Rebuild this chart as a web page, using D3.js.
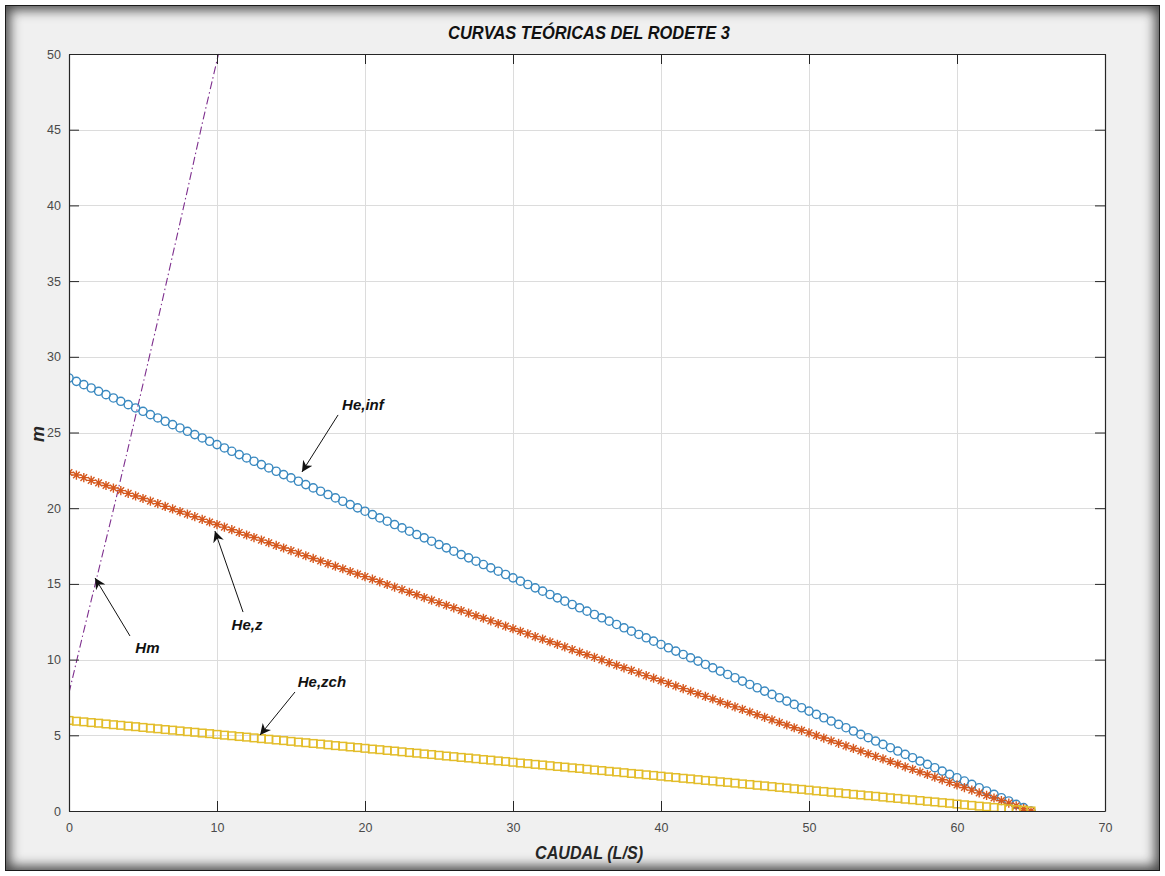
<!DOCTYPE html>
<html>
<head>
<meta charset="utf-8">
<script src="https://cdn.jsdelivr.net/npm/d3@7/dist/d3.min.js"></script>
<style>
  html, body { margin: 0; padding: 0; background: #ffffff; }
  #frame {
    position: absolute; left: 5px; top: 5px; width: 1153px; height: 864px;
    background: #f0f0f0; border: 1px solid #1a1a1a;
    box-shadow: inset 0 0 12px 4px rgba(0,0,0,0.7);
  }
  svg { position: absolute; left: 0; top: 0; }
  text { font-family: "Liberation Sans", Arial, sans-serif; }
</style>
</head>
<body>
<div id="frame"></div>
<svg id="chart" width="1165" height="876"></svg>
<script>
// ---------------- DATA ----------------
const titleText = "CURVAS TEÓRICAS DEL RODETE 3";
const xLabelText = "CAUDAL (L/S)";
const yLabelText = "m";
const xTicks = [0, 10, 20, 30, 40, 50, 60, 70];
const yTicks = [0, 5, 10, 15, 20, 25, 30, 35, 40, 45, 50];

// Caudal (L/s) at each marker
const caudal = [0,0.5,1,1.5,2,2.5,3,3.5,4,4.5,5,5.5,6,6.5,7,7.5,8,8.5,9,9.5,10,10.5,11,11.5,12,12.5,13,13.5,14,14.5,15,15.5,16,16.5,17,17.5,18,18.5,19,19.5,20,20.5,21,21.5,22,22.5,23,23.5,24,24.5,25,25.5,26,26.5,27,27.5,28,28.5,29,29.5,30,30.5,31,31.5,32,32.5,33,33.5,34,34.5,35,35.5,36,36.5,37,37.5,38,38.5,39,39.5,40,40.5,41,41.5,42,42.5,43,43.5,44,44.5,45,45.5,46,46.5,47,47.5,48,48.5,49,49.5,50,50.5,51,51.5,52,52.5,53,53.5,54,54.5,55,55.5,56,56.5,57,57.5,58,58.5,59,59.5,60,60.5,61,61.5,62,62.5,63,63.5,64,64.5,65];

// He,inf (circles)
const heInf = [28.6,28.38,28.16,27.94,27.72, 27.5,27.28,27.06,26.84,26.62, 26.4,26.18,25.96,25.74,25.52, 25.3,25.08,24.86,24.64,24.42, 24.2,23.98,23.76,23.54,23.32, 23.1,22.88,22.66,22.44,22.22, 22.0,21.78,21.56,21.34,21.12, 20.9,20.68,20.46,20.24,20.02, 19.8,19.58,19.36,19.14,18.92, 18.7,18.48,18.26,18.04,17.82, 17.6,17.38,17.16,16.94,16.72, 16.5,16.28,16.06,15.84,15.62, 15.4,15.18,14.96,14.74,14.52, 14.3,14.08,13.86,13.64,13.42, 13.2,12.98,12.76,12.54,12.32, 12.1,11.88,11.66,11.44,11.22, 11.0,10.78,10.56,10.34,10.12, 9.9,9.68,9.46,9.24,9.02, 8.8,8.58,8.36,8.14,7.92, 7.7,7.48,7.26,7.04,6.82, 6.6,6.38,6.16,5.94,5.72, 5.5,5.28,5.06,4.84,4.62, 4.4,4.18,3.96,3.74,3.52, 3.3,3.08,2.86,2.64,2.42, 2.2,1.98,1.76,1.54,1.32, 1.1,0.88,0.66,0.44,0.22, 0];

// He,z (asterisks)
const heZ = [22.36,22.19,22.02,21.84,21.67, 21.5,21.33,21.16,20.98,20.81, 20.64,20.47,20.30,20.12,19.95, 19.78,19.61,19.44,19.26,19.09, 18.92,18.75,18.58,18.40,18.23, 18.06,17.89,17.72,17.54,17.37, 17.2,17.03,16.86,16.68,16.51, 16.34,16.17,16.0,15.82,15.65, 15.48,15.31,15.14,14.96,14.79, 14.62,14.45,14.28,14.10,13.93, 13.76,13.59,13.42,13.24,13.07, 12.9,12.73,12.56,12.38,12.21, 12.04,11.87,11.70,11.52,11.35, 11.18,11.01,10.84,10.66,10.49, 10.32,10.15,9.98,9.80,9.63, 9.46,9.29,9.12,8.94,8.77, 8.6,8.43,8.26,8.08,7.91, 7.74,7.57,7.40,7.22,7.05, 6.88,6.71,6.54,6.36,6.19, 6.02,5.85,5.68,5.50,5.33, 5.16,4.99,4.82,4.64,4.47, 4.3,4.13,3.96,3.78,3.61, 3.44,3.27,3.10,2.92,2.75, 2.58,2.41,2.24,2.06,1.89, 1.72,1.55,1.38,1.20,1.03, 0.86,0.69,0.52,0.34,0.17, 0];

// He,zch (squares)
const heZch = [5.98,5.93,5.89,5.84,5.80, 5.75,5.70,5.66,5.61,5.57, 5.52,5.47,5.43,5.38,5.34, 5.29,5.24,5.20,5.15,5.11, 5.06,5.01,4.97,4.92,4.88, 4.83,4.78,4.74,4.69,4.65, 4.6,4.55,4.51,4.46,4.42, 4.37,4.32,4.28,4.23,4.19, 4.14,4.09,4.05,4.0,3.96, 3.91,3.86,3.82,3.77,3.73, 3.68,3.63,3.59,3.54,3.50, 3.45,3.40,3.36,3.31,3.27, 3.22,3.17,3.13,3.08,3.04, 2.99,2.94,2.90,2.85,2.81, 2.76,2.71,2.67,2.62,2.58, 2.53,2.48,2.44,2.39,2.35, 2.3,2.25,2.21,2.16,2.12, 2.07,2.02,1.98,1.93,1.89, 1.84,1.79,1.75,1.70,1.66, 1.61,1.56,1.52,1.47,1.43, 1.38,1.33,1.29,1.24,1.20, 1.15,1.10,1.06,1.01,0.97, 0.92,0.87,0.83,0.78,0.74, 0.69,0.64,0.60,0.55,0.51, 0.46,0.41,0.37,0.32,0.28, 0.23,0.18,0.14,0.09,0.05, 0];

// Hm (dash-dot line)
const hmQ = [0, 1, 2, 3, 4, 5, 6, 7, 8, 9, 10.1];
const hmH = [7.8, 11.9, 15.9, 19.9, 24.0, 28.2, 32.4, 36.7, 41.0, 45.4, 50];

// Annotations (data coordinates): label, label position, arrow tail, arrow head
const annLabels = ["He,inf", "He,z", "Hm", "He,zch"];
const annText = [[19.86, 26.82], [12.03, 12.29], [5.30, 10.77], [17.09, 8.52]];
const annTail = [[18.18, 26.16], [11.76, 13.14], [4.12, 11.56], [15.27, 7.86]];
const annHead = [[15.74, 22.39], [9.86, 18.49], [1.76, 15.39], [12.91, 5.02]];

// ---------------- CHART ----------------
const svg = d3.select("#chart");
const L = 69, R = 1105, T = 54, B = 811;
const x = d3.scaleLinear().domain([0, 70]).range([L, R]);
const y = d3.scaleLinear().domain([0, 50]).range([B, T]);

svg.append("rect").attr("x", L).attr("y", T).attr("width", R - L).attr("height", B - T).attr("fill", "#ffffff");

// grid
const grid = svg.append("g").attr("stroke", "#dcdcdc").attr("stroke-width", 1);
xTicks.forEach(t => grid.append("line").attr("x1", Math.round(x(t)) + 0.5).attr("x2", Math.round(x(t)) + 0.5).attr("y1", T).attr("y2", B));
yTicks.forEach(t => grid.append("line").attr("y1", Math.round(y(t)) + 0.5).attr("y2", Math.round(y(t)) + 0.5).attr("x1", L).attr("x2", R));

svg.append("clipPath").attr("id", "clip").append("rect").attr("x", L).attr("y", T - 1).attr("width", R - L).attr("height", B - T + 2);
const plot = svg.append("g").attr("clip-path", "url(#clip)");

// Hm line
const hmData = hmQ.map((q, i) => [q, hmH[i]]);
plot.append("path").datum(hmData)
  .attr("d", d3.line().x(d => x(d[0])).y(d => y(d[1])))
  .attr("fill", "none").attr("stroke", "#7E2F8E").attr("stroke-width", 1.1)
  .attr("stroke-dasharray", "8,3,1.5,3");

// circles
plot.append("g").selectAll("circle").data(caudal.map((q, i) => [q, heInf[i]])).join("circle")
  .attr("cx", d => x(d[0])).attr("cy", d => y(d[1])).attr("r", 4.1)
  .attr("fill", "none").attr("stroke", "#3a89c0").attr("stroke-width", 1.4);

// asterisks
const star = "M-4.6,0H4.6M0,-4.6V4.6M-3.3,-3.3L3.3,3.3M-3.3,3.3L3.3,-3.3";
plot.append("g").selectAll("path").data(caudal.map((q, i) => [q, heZ[i]])).join("path")
  .attr("transform", d => `translate(${x(d[0])},${y(d[1])})`).attr("d", star)
  .attr("fill", "none").attr("stroke", "#D5581E").attr("stroke-width", 1.4);

// squares
plot.append("g").selectAll("rect").data(caudal.map((q, i) => [q, heZch[i]])).join("rect")
  .attr("x", d => x(d[0]) - 3.8).attr("y", d => y(d[1]) - 3.8).attr("width", 7.6).attr("height", 7.6)
  .attr("fill", "none").attr("stroke", "#E3BD2A").attr("stroke-width", 1.5);

// axes
const axColor = "#262626";
function styleAxis(g, labels) {
  g.select(".domain").attr("stroke", axColor).attr("stroke-width", 1.2);
  g.selectAll(".tick line").attr("stroke", axColor);
  g.selectAll(".tick text").attr("fill", "#4a4a4a").attr("font-size", "12.5px")
    .attr("font-family", "'Liberation Sans', Arial, sans-serif");
  if (!labels) g.selectAll(".tick text").remove();
}
svg.append("g").attr("transform", `translate(0,${B})`)
  .call(d3.axisBottom(x).tickValues(xTicks).tickSizeInner(-10).tickSizeOuter(0).tickPadding(12))
  .call(g => styleAxis(g, true));
svg.append("g").attr("transform", `translate(0,${T})`)
  .call(d3.axisTop(x).tickValues(xTicks).tickSizeInner(-10).tickSizeOuter(0))
  .call(g => styleAxis(g, false));
svg.append("g").attr("transform", `translate(${L},0)`)
  .call(d3.axisLeft(y).tickValues(yTicks).tickSizeInner(-10).tickSizeOuter(0).tickPadding(8))
  .call(g => styleAxis(g, true));
svg.append("g").attr("transform", `translate(${R},0)`)
  .call(d3.axisRight(y).tickValues(yTicks).tickSizeInner(-10).tickSizeOuter(0))
  .call(g => styleAxis(g, false));

// title & labels
svg.append("text").attr("x", 589).attr("y", 39).attr("text-anchor", "middle")
  .attr("font-size", "18px").attr("font-weight", "bold").attr("font-style", "italic").attr("fill", "#111")
  .attr("textLength", 282).attr("lengthAdjust", "spacingAndGlyphs").text(titleText);
svg.append("text").attr("x", 589).attr("y", 859).attr("text-anchor", "middle")
  .attr("font-size", "18px").attr("font-weight", "bold").attr("font-style", "italic").attr("fill", "#262626")
  .attr("textLength", 108).attr("lengthAdjust", "spacingAndGlyphs").text(xLabelText);
svg.append("text").attr("transform", "translate(44,434) rotate(-90)").attr("text-anchor", "middle")
  .attr("font-size", "18px").attr("font-weight", "bold").attr("font-style", "italic").attr("fill", "#262626")
  .text(yLabelText);

// annotations
svg.append("defs").append("marker").attr("id", "ah").attr("viewBox", "0 0 10 10")
  .attr("refX", 10).attr("refY", 5).attr("markerWidth", 11).attr("markerHeight", 11)
  .attr("markerUnits", "userSpaceOnUse").attr("orient", "auto")
  .append("path").attr("d", "M0,0L10,5L0,10L3,5Z").attr("fill", "#111");
annLabels.forEach((lab, i) => {
  svg.append("line")
    .attr("x1", x(annTail[i][0])).attr("y1", y(annTail[i][1]))
    .attr("x2", x(annHead[i][0])).attr("y2", y(annHead[i][1]))
    .attr("stroke", "#111").attr("stroke-width", 1).attr("marker-end", "url(#ah)");
  svg.append("text").attr("x", x(annText[i][0])).attr("y", y(annText[i][1]) + 5)
    .attr("text-anchor", "middle").attr("font-size", "15px").attr("font-weight", "bold")
    .attr("font-style", "italic").attr("fill", "#111").text(lab);
});
</script>
</body>
</html>
